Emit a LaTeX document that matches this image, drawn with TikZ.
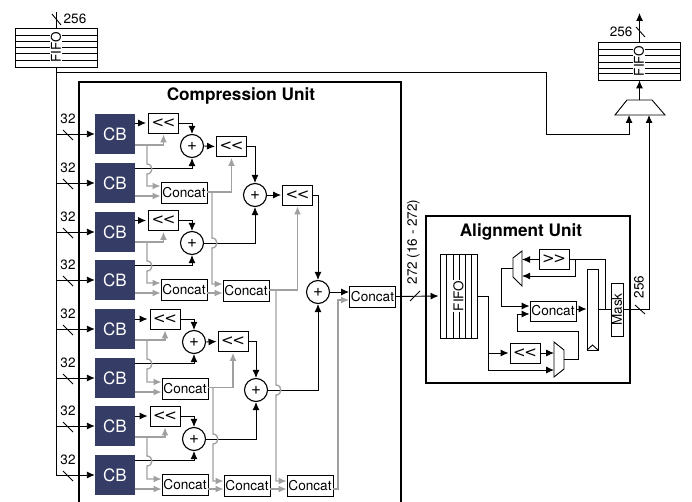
\documentclass[tikz,border=0pt]{standalone}
\usepackage{fontspec}
\setmainfont{TeX Gyre Heros}
\newfontfamily\shiftfont{DejaVu Sans}
\usetikzlibrary{arrows.meta,calc}
\definecolor{cbblue}{HTML}{353C66}
\definecolor{wiregray}{HTML}{A0A0A0}
\tikzset{
  wire/.style={draw=black,line width=0.9pt,line join=miter},
  warrow/.style={wire,-{Latex[length=8pt,width=7pt]}},
  gwire/.style={draw=wiregray,line width=1.3pt},
  garrow/.style={gwire,-{Latex[length=8pt,width=7pt]}},
  thickbox/.style={draw=black,line width=2.8pt},
  cbbox/.style={fill=cbblue,text=white,minimum width=40pt,minimum height=40pt,inner sep=0pt,font=\fontsize{17}{17}\selectfont},
  shiftbox/.style={draw=black,line width=0.9pt,fill=white,minimum width=30pt,minimum height=20pt,inner sep=0pt,font=\shiftfont\fontsize{15}{15}\selectfont},
  concatbox/.style={draw=black,line width=0.9pt,fill=white,minimum width=46pt,minimum height=21pt,inner sep=0pt,font=\fontsize{13.6}{14}\selectfont},
  plusnode/.style={circle,draw=black,line width=1.1pt,fill=white,minimum size=23pt,inner sep=0pt,font=\fontsize{17}{17}\selectfont},
  lbl/.style={inner sep=0pt,font=\fontsize{13.5}{14}\selectfont},
  title/.style={inner sep=0pt,font=\bfseries\fontsize{17.2}{18}\selectfont},
  fifobox/.style={draw=black,line width=0.9pt,inner sep=0pt},
  fifotext/.style={fill=white,inner sep=1pt,rotate=90,font=\fontsize{13.5}{14}\selectfont},
}
\newcommand\bumpat[2]{-- (#1,#2-5) .. controls (#1+6.5,#2-5) and (#1+6.5,#2+5) .. (#1,#2+5)}
\newcommand\shl{<\kern-1.5pt<}
\newcommand\shr{>\kern-1.5pt>}
\begin{document}
\begin{tikzpicture}[x=1pt,y=-1pt]
\useasboundingbox (0,0) rectangle (692,502);
% --- Compression unit frame (runs off the bottom)
\draw[thickbox] (79,502) -- (79,82) -- (401,82) -- (401,502);
\node[title] (cutitle) at (241,96) {Compression Unit};

% --- Left FIFO
\node[fifobox,minimum width=82pt,minimum height=39pt] (fifoL) at (56,47.5) {};
\foreach \y in {35,41,47,53,60}{\draw[wire] (15,\y) -- (97,\y);}
\node[fifotext] (fifoLt) at (56,47.5) {FIFO};
\coordinate (topL) at (56,12);
\draw[wire] (topL) -- (fifoL.north);
\draw[wire] (52,14) -- (61,25);
\node[lbl] (l256a) at (75,19) {256};

% --- Combining blocks
\foreach \n/\y in {1/134,2/183,3/232,4/280,5/329,6/378,7/426,8/475}{
  \node[cbbox] (cb\n) at (115,\y) {CB};
}
\coordinate (trunk) at (56,72);
\draw[wire] (fifoL.south) -- (56,475);
\foreach \n/\y in {1/134,2/183,3/232,4/280,5/329,6/378,7/426,8/475}{
  \draw[warrow] (trunk |- cb\n.west) -- (cb\n.west);
  \draw[wire] (63,\y-4) -- (73,\y+6);
  \node[lbl] (w\n) at (68,\y-15) {32};
}

% --- Shifters, adders, concats
\node[shiftbox] (s1) at (163.5,123) {\shl};
\node[shiftbox] (s2) at (231.5,146.5) {\shl};
\node[shiftbox] (s3) at (297.5,195) {\shl};
\node[shiftbox] (s4) at (163.5,220.5) {\shl};
\node[shiftbox] (s5) at (165,319) {\shl};
\node[shiftbox] (s6) at (233,341.5) {\shl};
\node[shiftbox] (s7) at (165,416) {\shl};
\node[concatbox] (c1) at (184,193) {Concat};
\node[concatbox] (c2) at (184,290) {Concat};
\node[concatbox] (c3) at (246,291) {Concat};
\node[concatbox] (c4) at (372.5,296.5) {Concat};
\node[concatbox] (c5) at (185,388.5) {Concat};
\node[concatbox] (c6) at (185,484.5) {Concat};
\node[concatbox] (c7) at (247,486) {Concat};
\node[concatbox] (c8) at (310,486) {Concat};
\node[plusnode] (p1) at (192,146) {+};
\node[plusnode] (p2) at (255,195) {+};
\node[plusnode] (p3) at (318,292) {+};
\node[plusnode] (p4) at (192,243) {+};
\node[plusnode] (p5) at (194,342) {+};
\node[plusnode] (p6) at (256,390) {+};
\node[plusnode] (p7) at (194,439) {+};

% --- Black data wires
\foreach \c/\s/\p/\d in {1/s1/p1/2,3/s4/p4/4,5/s5/p5/6,7/s7/p7/8}{
  \draw[warrow] (cb\c.east |- \s.west) -- ([xshift=-2pt]\s.west);
  \draw[warrow] (\s.east) -| (\p.north);
  \draw[warrow] ([yshift=-6pt]cb\d.north east) -| (\p.south);
}
\draw[warrow] (p1.east) -- ([xshift=-1pt]s2.west);
\draw[warrow] (s2.east) -| (p2.north);
\draw[warrow] (p4.east) -| (p2.south);
\draw[warrow] (p2.east) -- ([xshift=-1pt]s3.west);
\draw[warrow] (s3.east) -| (p3.north);
\draw[warrow] (p5.east) -- ([xshift=-1pt]s6.west);
\draw[warrow] (s6.east) -| (p6.north);
\draw[warrow] (p7.east) -| (p6.south);
\draw[warrow] (p6.east) -| (p3.south);
\draw[warrow] (p3.east) -- (c4.west |- p3.east);

% --- Gray control wires
\foreach \c/\s/\d/\k/\y/\yb/\ym in {1/s1/2/c1/145/186/169,3/s4/4/c2/242/283/266,5/s5/6/c5/340/382/364,7/s7/8/c6/437/479/461}{
  \coordinate (sj\c) at (147,\y);
  \draw[garrow] (cb\c.east |- sj\c) -| ([yshift=-1pt]\s.south);
  \coordinate (ce\c) at (\k.west |- 0,\yb);
  \draw[garrow] (sj\c) \bumpat{147}{\ym} -- (147,\yb) -- (ce\c);
}
\foreach \d/\k/\y in {2/c1/196,4/c2/293,6/c5/392,8/c6/489}{
  \coordinate (cf\d) at (\k.west |- 0,\y);
  \draw[garrow] (cb\d.east |- cf\d) -- (cf\d);
}
\draw[garrow] ([yshift=1pt]c1.east) -| ([yshift=-1pt]s2.south);
\draw[garrow] ([yshift=1pt]c5.east) -| ([yshift=-1pt]s6.south);
\draw[garrow] ([yshift=1pt]c3.east) -| ([yshift=-1pt]s3.south);
\coordinate (t2) at (c3.west |- 0,293);
\draw[garrow] (c2.east |- t2) -- (t2);
\coordinate (t3) at (c7.west |- 0,489);
\draw[garrow] (c6.east |- t3) -- (t3);
\coordinate (t4) at (c8.west |- 0,489);
\draw[garrow] (c7.east |- t4) -- (t4);
% branches with hops
\coordinate (u1) at (c3.west |- 0,284);
\draw[garrow] (212,192) \bumpat{212}{243} -- (212,284) -- (u1);
\coordinate (u2) at (c7.west |- 0,481);
\draw[garrow] (213,388) \bumpat{213}{439} -- (213,481) -- (u2);
\coordinate (u3) at (c8.west |- 0,481);
\draw[garrow] (276,290) \bumpat{276}{390} -- (276,481) -- (u3);
\coordinate (u4) at (c4.west |- 0,300);
\draw[garrow] (c8.east |- 0,489) -- (338,489) -- (338,300) -- (u4);

% --- Alignment unit
\node[thickbox,minimum width=204pt,minimum height=167pt,inner sep=0pt] (au) at (528,299.5) {};
\node[title] (autitle) at (521,232) {Alignment Unit};
\node[fifobox,minimum width=37pt,minimum height=84pt] (fifoA) at (458.5,296) {};
\foreach \x in {446,453,459,465,471}{\draw[wire] (\x,254) -- (\x,338);}
\node[fifotext] (fifoAt) at (458.5,296) {FIFO};
\draw[warrow] (c4.east) -- ([xshift=-1pt]fifoA.west);
\draw[wire] (410,301) -- (420,291);
\node[lbl,rotate=90] (l272) at (413.5,242) {272 (16 - 272)};

\node[shiftbox] (sa) at (525,353) {\shl};
\node[shiftbox] (sb) at (554,259.5) {\shr};
\node[concatbox,minimum height=20pt] (ca) at (553,311) {Concat};
\node[draw=black,line width=0.9pt,minimum width=11pt,minimum height=81pt,inner sep=0pt] (reg) at (592.5,309.5) {};
\draw[wire] (587,350) -- (592.5,345) -- (598,350);
\node[draw=black,line width=0.9pt,minimum width=12pt,minimum height=53pt,inner sep=0pt] (mask) at (617,309.5) {};
\node[inner sep=0pt,rotate=90,font=\fontsize{13.5}{14}\selectfont] (maskt) at (617,309.5) {Mask};

% muxes
\coordinate (m2in1) at (554,353);
\coordinate (m2in2) at (554,370);
\coordinate (m2out) at (564,359);
\draw[wire] (554,342) -- (564,350) -- (564,369) -- (554,377) -- cycle;
\coordinate (m1in1) at (522,259.5);
\coordinate (m1in2) at (522,276);
\coordinate (m1out) at (513,268);
\draw[wire] (513,258) -- (522,251) -- (522,286) -- (513,277) -- cycle;

\coordinate (fj) at (488,296);
\draw[wire] (fifoA.east) -- (fj);
\draw[warrow] (fj) |- (m2in2);
\draw[warrow] (fj |- sa.west) -- ([xshift=-1pt]sa.west);
\draw[warrow] (sa.east) -- (m2in1);
\draw[warrow] (m2out) -- (578,359) -- (578,331) -- (517,331) -- (517,314) -- (ca.west |- 0,314);
\draw[warrow] (m1out) -- (501,268) -- (501,306) -- (ca.west |- 0,306);
\draw[warrow] (sb.west) -- (m1in1);
\coordinate (bj) at (605,259.5);
\draw[wire] (sb.east) -- (bj) -- (605,309);
\draw[warrow] (575,259.5) -- (575,276) -- (m1in2);
\draw[warrow] (ca.east |- 0,309) -- (reg.west |- 0,309);
\draw[wire] (reg.east |- 0,309) -- (mask.west |- 0,309);

% --- Output FIFO and mux
\node[fifobox,minimum width=82pt,minimum height=38pt] (fifoR) at (639,61) {};
\foreach \y in {49,55.5,62,68,73}{\draw[wire] (598,\y) -- (680,\y);}
\node[fifotext] (fifoRt) at (639,61) {FIFO};
\coordinate (muxtop) at (639.5,100);
\coordinate (muxa) at (629,115);
\coordinate (muxb) at (649,115);
\draw[wire] (615,115) -- (627,100) -- (652,100) -- (665,115) -- cycle;
\draw[warrow] (muxtop) -- (muxtop |- fifoR.south);
\coordinate (topR) at (muxtop |- 0,13);
\draw[warrow] (muxtop |- fifoR.north) -- (topR);
\draw[wire] (636,27) -- (645,37);
\node[lbl] (l256b) at (621,32) {256};
\draw[warrow] (trunk) -- (546,72) -- (546,134) -- (629,134) -- (muxa);
\draw[warrow] (mask.east |- 0,309) -- (649,309) -- (muxb);
\draw[wire] (635,305) -- (645,314);
\node[lbl,rotate=90] (l256c) at (639,287) {256};
\end{tikzpicture}
\end{document}
